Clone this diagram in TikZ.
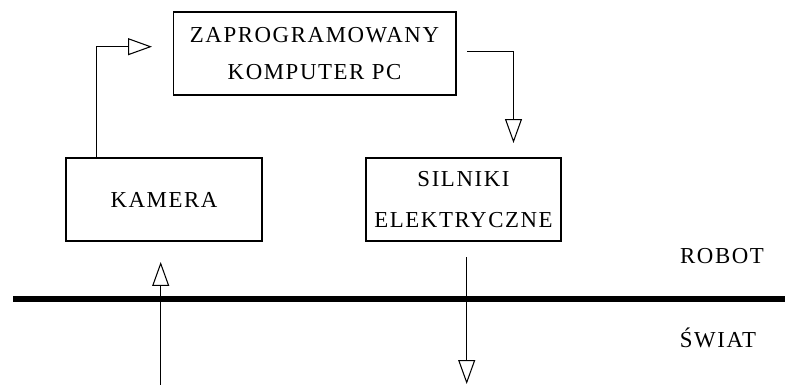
\documentclass[tikz,border=0pt]{standalone}
\usepackage{fontspec}
\setmainfont{Liberation Serif}[LetterSpace=7]
\usetikzlibrary{arrows.meta}
\begin{document}
\begin{tikzpicture}[x=0.02cm,y=-0.02cm,
  napis/.style={font=\fontsize{13}{15.6}\selectfont},
  blok/.style={napis,draw,line width=0.6pt,minimum height=1.66cm,align=center,inner sep=0pt},
  strz/.style={line width=0.6pt,-{Triangle[open,length=0.48cm,width=0.34cm]}}]
\useasboundingbox (0,0) rectangle (785,385);
\node[blok,minimum width=5.66cm] (pc) at (314.5,53.5) {ZAPROGRAMOWANY\\[0.2cm]KOMPUTER PC};
\node[blok,minimum width=3.92cm] (kam) at (164,199.5) {KAMERA};
\node[blok,minimum width=3.9cm] (sil) at (463.5,199.5) {SILNIKI\\[0.28cm]ELEKTRYCZNE};
\node[napis] (rob) at (722,256.5) {ROBOT};
\node[napis] (swi) at (718,337.5) {ŚWIAT};
% granica robot / swiat
\draw[line width=0.12cm] (13,299) coordinate (gl) -- (785,299) coordinate (gp);
\coordinate (lx) at (96.7,0);
\coordinate (pcwe) at (152,46.7);
\coordinate (pcwy) at (467,51.7);
\coordinate (silwe) at (513.5,143);
\coordinate (silwy) at (466.7,257);
\coordinate (kamwe) at (160.7,262);
\coordinate (dol1) at (160.7,385);
\coordinate (dol2) at (466.7,384);
\draw[strz] (kam.north -| lx) |- (pcwe);
\draw[strz] (pcwy) -| (silwe);
\draw[strz] (silwy) -- (dol2);
\draw[strz] (dol1) -- (kamwe);
\end{tikzpicture}
\end{document}
